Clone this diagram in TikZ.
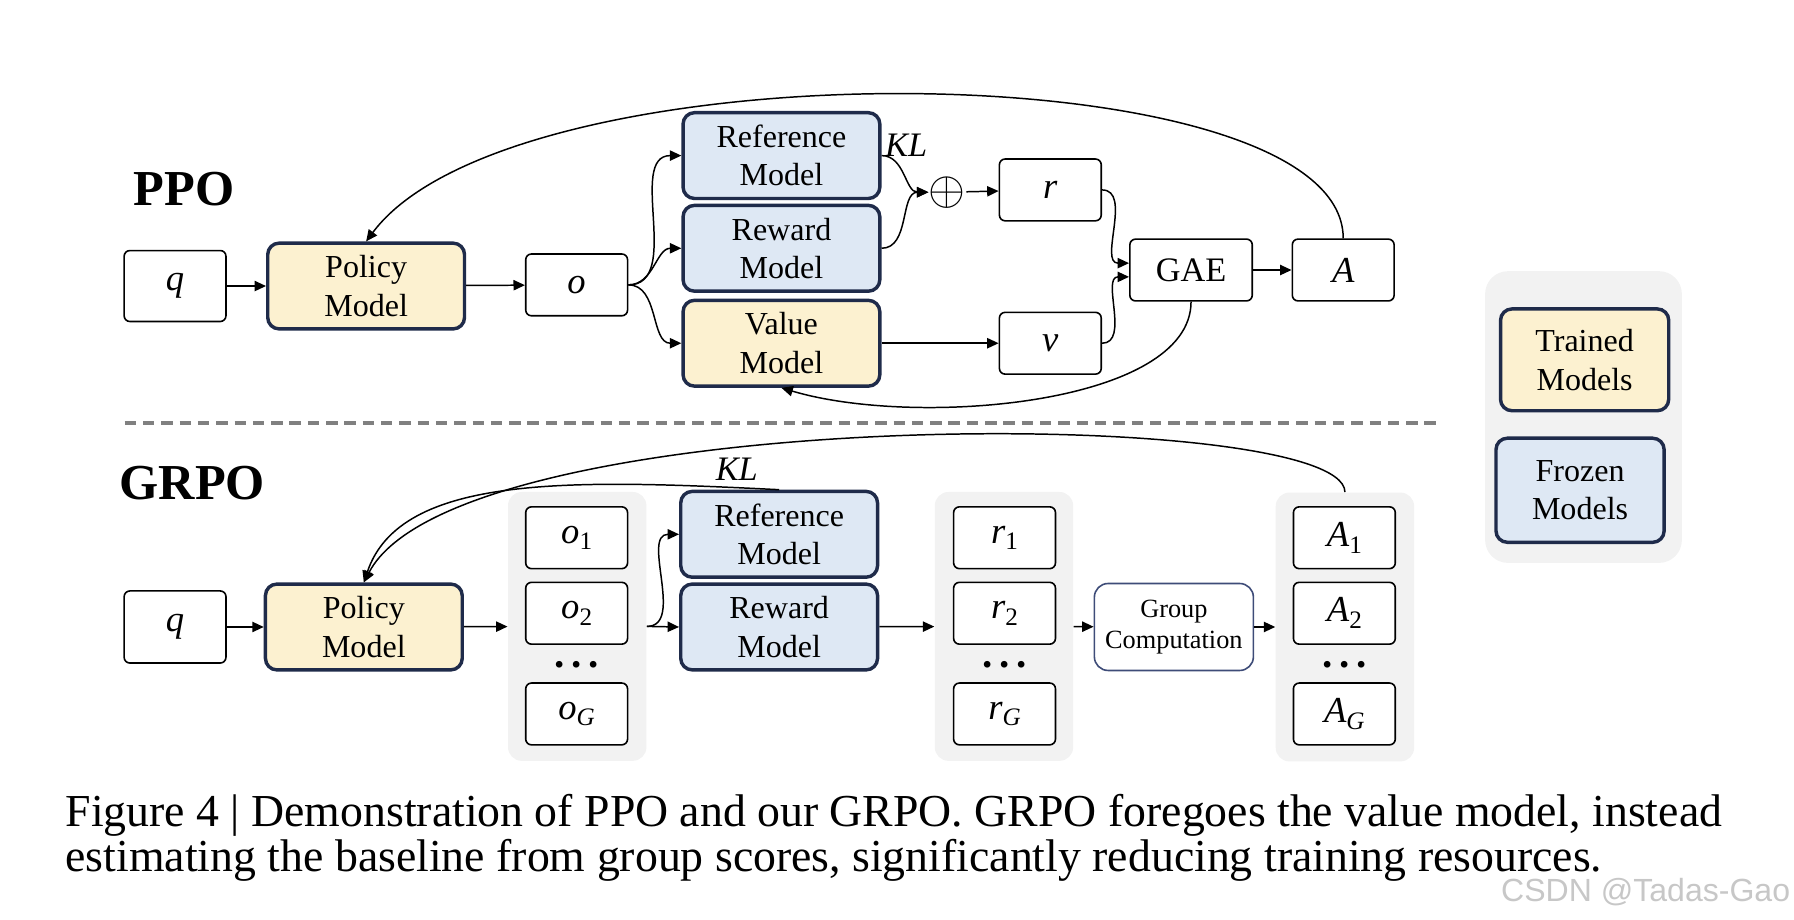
\documentclass[tikz,border=0pt]{standalone}
\usepackage{fontspec}
\setmainfont{Liberation Serif}
\newfontfamily\wmfont{Liberation Sans}
\usetikzlibrary{arrows.meta}
\definecolor{trainfill}{HTML}{FCF1D0}
\definecolor{frozenfill}{HTML}{DEE8F4}
\definecolor{modeldraw}{HTML}{1F2B4A}
\definecolor{grpfill}{HTML}{F2F2F2}
\definecolor{gcdraw}{HTML}{3E4C78}
\newcommand{\lowsub}[1]{\raisebox{-0.4ex}{\fontsize{11}{11}\selectfont\upshape #1}}

\tikzset{
  box/.style={draw, fill=white, rounded corners=2.5pt, line width=0.7pt,
    minimum width=44.5pt, minimum height=27pt, font=\fontsize{16}{18}\selectfont\itshape},
  model/.style={draw=modeldraw, rounded corners=5pt, line width=1.5pt, minimum width=86pt,
    minimum height=37.5pt, align=center, font=\fontsize{14}{16.8}\selectfont},
  trained/.style={model, fill=trainfill},
  frozen/.style={model, fill=frozenfill},
  grp/.style={fill=grpfill, rounded corners=6pt, minimum width=60.5pt, minimum height=117.5pt},
  title/.style={font=\fontsize{22}{22}\selectfont\bfseries},
  kl/.style={font=\fontsize{15}{15}\selectfont\itshape},
  arr/.style={-{Triangle[length=5pt,width=4.5pt]}, line width=0.65pt},
}

\begin{document}
\begin{tikzpicture}[x=0.5pt,y=0.5pt]
\useasboundingbox (0,0) rectangle (1568,804);
% PPO
\node[title] (ppo) at (161,639) {PPO};
\node[box, minimum height=31pt] (q1) at (153,554) {q};
\node[trained] (pol1) at (320,554) {Policy\\Model};
\node[box] (o) at (504,555) {o};
\node[frozen] (ref1) at (683,668) {Reference\\Model};
\node[frozen] (rew1) at (683,587) {Reward\\Model};
\node[trained] (val1) at (683,504) {Value\\Model};
\node[kl] (kl1) at (792,677) {KL};
\node[inner sep=0pt, font=\fontsize{22}{22}\selectfont] (plus) at (828,636) {$\oplus$};
\node[box] (r) at (918,638) {r};
\node[box] (v) at (918,504) {v};
\node[box, minimum width=53.5pt, font=\fontsize{15}{15}\selectfont] (gae) at (1041,568) {GAE};
\node[box] (adv) at (1174,568) {A};

\draw[arr] (q1) -- (pol1);
\draw[arr] (pol1) -- (o);
\foreach \m in {ref1,rew1,val1} \draw[arr] (o.east) to[out=0,in=180] (\m.west);
\draw[arr] (ref1.east) to[out=0,in=180] (plus.west);
\draw[arr] (rew1.east) to[out=0,in=180] (plus.west);
\draw[arr] (plus) -- (r);
\draw[arr] (val1) -- (v);
\draw[arr] (r.east) to[out=0,in=180] ([yshift=3pt]gae.west);
\draw[arr] (v.east) to[out=0,in=180] ([yshift=-3pt]gae.west);
\draw[arr] (gae) -- (adv);
\draw[arr] (adv.north) .. controls (1174,760) and (450,767) .. (pol1.north);
\draw[arr] (gae.south) .. controls (1041,450) and (800,430) .. (val1.south);

% legend
\node[fill=grpfill, rounded corners=10pt, minimum width=86pt, minimum height=127.5pt] (legend) at (1384,439.5) {};
\node[trained, minimum width=73.5pt, minimum height=44.5pt] (trn) at (1385,489.5) {Trained\\Models};
\node[frozen, minimum width=73.5pt, minimum height=45.5pt] (frz) at (1381,375.5) {Frozen\\Models};

\draw[color=black!50, line width=1.6pt, dash pattern=on 5pt off 3pt] (109,434) -- (1260,434);

% GRPO
\node[title] (grpo) at (168,382) {GRPO};
\node[box, minimum height=31.5pt] (q2) at (153,256) {q};
\node[trained] (pol2) at (318,256) {Policy\\Model};
\node[grp] (ogrp) at (504.5,256.5) {};
\node[grp] (rgrp) at (877.5,256.5) {};
\node[grp] (agrp) at (1175.5,256) {};
\foreach \n/\s/\x in {o/o/504, r/r/878, a/A/1175} {
  \node[box] (\n-1) at (\x,334) {\s\lowsub{1}};
  \node[box] (\n-2) at (\x,268) {\s\lowsub{2}};
  \node[anchor=base, font=\fontsize{18}{18}\selectfont\bfseries] (\n-dots) at (\x,221) {.\,.\,.};
  \node[box] (\n-G) at (\x,180) {\s\lowsub{\itshape G}};
}
\node[frozen] (ref2) at (681,337) {Reference\\Model};
\node[frozen] (rew2) at (681,256) {Reward\\Model};
\node[kl] (kl2) at (644,394) {KL};
\node[box, draw=gcdraw, rounded corners=6pt, minimum width=69.5pt, minimum height=38pt,
  align=center, font=\fontsize{11.5}{13.5}\selectfont] (gc) at (1026,256) {Group\\Computation};

\draw[arr] (q2) -- (pol2);
\draw[arr] (pol2) -- (ogrp);
\draw[arr] (ogrp.east) to[out=0,in=180] (ref2.west);
\draw[arr] (ogrp.east) -- (rew2.west);
\draw[arr] (rew2) -- (rgrp);
\draw[arr] (rgrp) -- (gc);
\draw[arr] (gc) -- (agrp);
\draw[arr] (agrp.north) .. controls (1175,450) and (400,452) .. (pol2.north);
\draw[arr] (ref2.north) .. controls (500,385) and (350,390) .. (pol2.north);

% caption
\node[anchor=base west, inner sep=0pt, font=\fontsize{20}{24}\selectfont] (cap1) at (57,82)
  {Figure 4 | Demonstration of PPO and our GRPO. GRPO foregoes the value model, instead};
\node[anchor=base west, inner sep=0pt, font=\fontsize{20}{24}\selectfont] (cap2) at (57,42)
  {estimating the baseline from group scores, significantly reducing training resources.};
\node[anchor=base east, inner sep=0pt, text=black!22, font=\wmfont\fontsize{14}{14}\selectfont] (wm) at (1565,16) {CSDN @Tadas-Gao};
\end{tikzpicture}
\end{document}
